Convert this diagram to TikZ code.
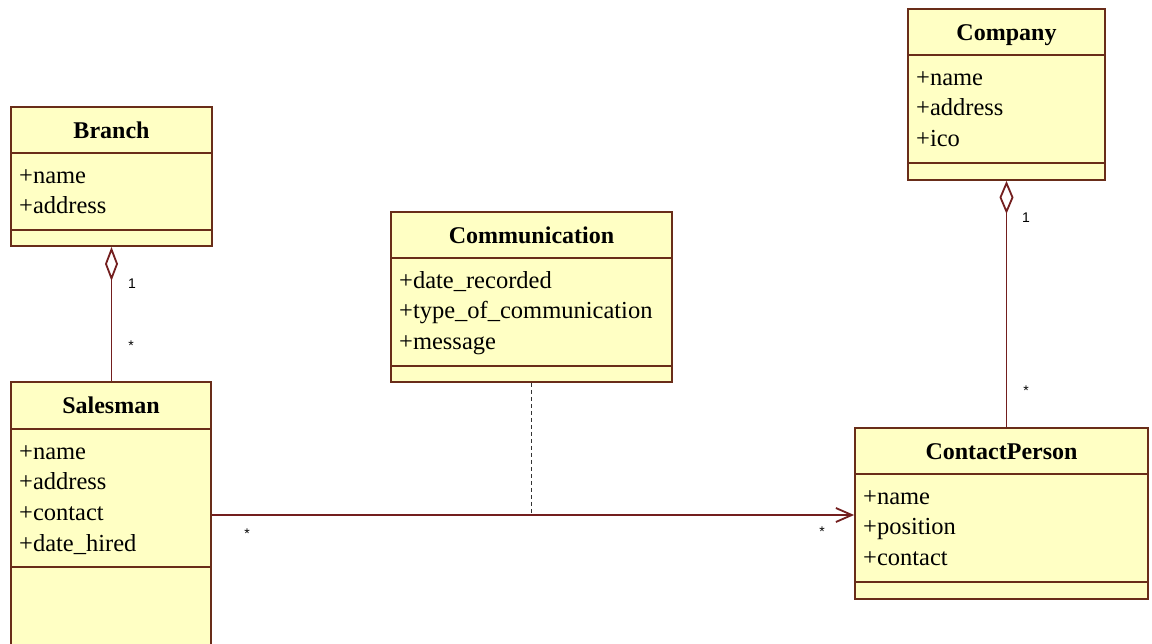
\documentclass[tikz,border=0pt]{standalone}
\usepackage{fontspec}
\setmainfont{Liberation Serif}
\newfontfamily\lblfont{Liberation Sans}
\usetikzlibrary{arrows.meta,fit}
\definecolor{clsfill}{RGB}{255,255,196}
\definecolor{clsedge}{RGB}{105,45,25}
\definecolor{linkcol}{RGB}{115,30,30}
\tikzset{
  classbox/.style={draw=clsedge, fill=clsfill, line width=1.8pt, inner sep=0pt},
  sepline/.style={draw=clsedge, line width=1.8pt},
  classtitle/.style={font=\fontsize{24}{28}\selectfont\bfseries, inner sep=0pt, anchor=base},
  attrtext/.style={font=\fontsize{24.5}{28}\selectfont, inner sep=0pt, anchor=base west},
  link/.style={draw=linkcol, line width=1.8pt},
  mult/.style={font=\lblfont\fontsize{14}{16}\selectfont, inner sep=0pt},
}
% #1 name, #2 x1, #3 y1, #4 x2, #5 y2, #6 first separator, #7 second separator, #8 title, #9 attributes
\newcommand{\umlclass}[9]{%
  \node[classbox, fit={(#2,#3) (#4,#5)}] (#1) {};
  \draw[sepline] (#2,#6) -- (#4,#6);
  \draw[sepline] (#2,#7) -- (#4,#7);
  \node[classtitle] (#1-t) at ({(#2+#4)/2},#3+31) {#8};
  \foreach \a [count=\i] in {#9} {
    \node[attrtext] (#1-a\i) at (#2+8,{#6+30+(\i-1)*30.8}) {\a};
  }%
}
\begin{document}
\begin{tikzpicture}[x=1pt,y=-1pt]
  \fill[white] (0,0) rectangle (1152,643);
  \clip (0,0) rectangle (1152,643);

  \umlclass{branch}{11}{107}{212}{246}{153}{230}{Branch}{+name,+address}
  \umlclass{salesman}{11}{382}{211}{648}{429}{567}{Salesman}{+name,+address,+contact,+date\_hired}
  \umlclass{comm}{391}{212}{672}{382}{258}{366}{Communication}{+date\_recorded,+type\_of\_communication,+message}
  \umlclass{company}{908}{9}{1105}{180}{55}{163}{Company}{+name,+address,+ico}
  \umlclass{contact}{855}{428}{1148}{599}{474}{582}{ContactPerson}{+name,+position,+contact}

  % Branch -- Salesman aggregation
  \draw[link, {Diamond[open, length=34pt, width=13pt]}-] (branch.south) -- (branch.south |- salesman.north);
  \node[mult] (m1) at (132,284) {1};
  \node[mult] (m2) at (131,346) {*};

  % Company -- ContactPerson aggregation
  \draw[link, {Diamond[open, length=33pt, width=14pt]}-] (company.south) -- (company.south |- contact.north);
  \node[mult] (m3) at (1026,218) {1};
  \node[mult] (m4) at (1026,391) {*};

  % Salesman -> ContactPerson association
  \coordinate (j) at (comm.south |- salesman.east);
  \draw[link, -{Straight Barb[length=16pt, width=14pt]}] (salesman.east) -- (salesman.east -| contact.west);
  \node[mult] (m5) at (247,534) {*};
  \node[mult] (m6) at (822,532) {*};

  % association class link
  \draw[link, draw=black!80, line width=1.6pt, dash pattern=on 4pt off 3pt] (comm.south) -- (j);
\end{tikzpicture}
\end{document}
